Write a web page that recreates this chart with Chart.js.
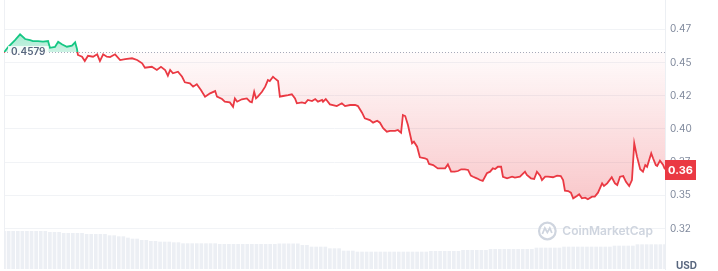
<!DOCTYPE html>
<html>
<head>
<meta charset="utf-8">
<script src="https://cdn.jsdelivr.net/npm/chart.js@4.4.1/dist/chart.umd.min.js"></script>
<style>
  html, body { margin: 0; padding: 0; background: #fff; }
  #wrap { width: 718px; height: 271px; position: relative; }
</style>
</head>
<body>
<div id="wrap"><canvas id="myChart"></canvas></div>
<script>
// price series: minutes since start of the 24h window, price in USD
const times = [0,9,24,35,46,57,63,74,85,96,100,111,118,126,137,148,155,159,161,170,
    176,183,194,203,209,216,224,231,242,253,264,279,290,301,307,322,333,342,351,357,
    362,368,379,388,394,405,412,420,429,438,449,460,464,475,481,492,499,503,508,518,
    529,536,540,545,549,553,562,569,575,579,586,590,597,601,608,619,627,634,638,649,
    656,662,671,678,684,693,695,701,710,721,725,736,743,754,765,771,780,786,797,804,
    813,819,826,834,841,852,858,865,869,874,880,889,893,900,906,917,922,926,935,945,
    961,967,974,982,989,996,1004,1011,1017,1022,1030,1037,1043,1052,1059,1065,1070,1076,1083,1087,
    1096,1107,1113,1124,1135,1139,1148,1155,1161,1168,1172,1179,1185,1196,1205,1213,1218,1222,1229,1235,
    1240,1248,1253,1259,1266,1272,1281,1287,1294,1303,1307,1314,1324,1331,1336,1342,1349,1355,1362,1368,
    1373,1379,1386,1392,1397,1401,1410,1414,1420,1423,1429,1436,1440];

const prices = [0.4575,0.4617,0.4669,0.4712,0.4677,0.4669,0.4662,0.4662,0.4657,0.4662,0.4611,0.4617,0.4657,0.4637,0.4619,0.4627,0.4652,0.4602,0.4557,0.4544,
    0.4511,0.4551,0.4544,0.4562,0.4511,0.4562,0.4544,0.4541,0.4562,0.4519,0.4526,0.4532,0.4519,0.4494,0.4461,0.4468,0.4444,0.4468,0.4444,0.4401,
    0.4444,0.4419,0.4431,0.4393,0.4351,0.4343,0.4318,0.4336,0.4293,0.4243,0.4268,0.4285,0.4243,0.4225,0.4206,0.4200,0.4167,0.4230,0.4205,0.4223,
    0.4230,0.4205,0.4200,0.4280,0.4230,0.4243,0.4280,0.4318,0.4368,0.4361,0.4393,0.4381,0.4361,0.4243,0.4248,0.4255,0.4261,0.4230,0.4193,0.4200,
    0.4193,0.4218,0.4210,0.4225,0.4205,0.4218,0.4205,0.4225,0.4185,0.4176,0.4172,0.4193,0.4172,0.4180,0.4180,0.4172,0.4122,0.4080,0.4067,0.4047,
    0.4062,0.4047,0.4005,0.3979,0.3986,0.3986,0.3992,0.3971,0.4105,0.4097,0.4029,0.3892,0.3904,0.3866,0.3786,0.3779,0.3771,0.3736,0.3728,0.3703,
    0.3703,0.3733,0.3678,0.3678,0.3683,0.3696,0.3696,0.3691,0.3648,0.3640,0.3628,0.3615,0.3608,0.3666,0.3678,0.3703,0.3698,0.3715,0.3715,0.3640,
    0.3628,0.3640,0.3633,0.3640,0.3678,0.3653,0.3628,0.3623,0.3678,0.3648,0.3615,0.3640,0.3640,0.3636,0.3648,0.3645,0.3615,0.3535,0.3532,0.3520,
    0.3477,0.3495,0.3508,0.3477,0.3482,0.3470,0.3490,0.3490,0.3520,0.3590,0.3570,0.3590,0.3636,0.3590,0.3578,0.3640,0.3645,0.3602,0.3570,0.3615,
    0.3892,0.3791,0.3696,0.3678,0.3728,0.3715,0.3816,0.3779,0.3728,0.3721,0.3761,0.3728,0.3696];

// 24h volume, one bar every 10 minutes (millions USD)
const volumes = [11.4,11.4,11.4,11.4,11.4,11.4,11.4,11.4,11.4,11.4,
    11.1,11.1,11.1,10.8,10.8,10.8,10.8,10.8,10.5,10.5,10.5,10.5,10.5,
    10.1,10.1,9.8,9.8,9.4,9.1,9.1,8.7,8.7,8.4,8.4,8.2,8.2,8.2,8.0,8.0,
    7.7,7.7,7.7,7.7,7.7,7.7,7.7,7.7,
    7.5,7.5,7.5,7.5,7.5,7.5,7.5,7.5,7.5,7.5,7.5,7.5,7.5,
    7.65,7.65,7.65,7.65,7.65,7.2,7.2,6.7,6.7,6.7,6.7,6.2,6.2,6.2,5.5,5.5,5.5,
    5.2,5.2,5.2,5.2,5.2,5.2,5.2,5.2,5.2,5.2,5.2,5.2,5.2,5.2,5.2,5.2,
    5.4,5.4,5.4,5.4,5.4,5.4,5.4,5.7,5.7,5.7,5.7,5.7,5.7,
    6.0,6.0,6.0,6.0,6.0,6.0,6.0,6.0,6.0,6.0,6.4,6.4,6.4,6.4,6.4,6.4,
    6.7,6.7,6.7,6.7,6.7,6.7,6.7,6.7,6.7,6.7,6.7,7.0,7.0,7.0,7.0,7.0,
    7.4,7.4,7.4,7.4,7.4,7.4,7.4];

const openPrice = 0.4579;
const tickValues = [0.475, 0.45, 0.425, 0.40, 0.375, 0.35, 0.325];
const tickLabels = ['0.47', '0.45', '0.42', '0.40', '0.37', '0.35', '0.32'];

const green = 'rgb(22, 199, 132)';
const red = 'rgb(234, 57, 67)';

//line colour switches at the open price
const lineColor = (context) => {
    const chart = context.chart;
    const area = chart.chartArea;
    if (!area) return red;
    const y = chart.scales.y.getPixelForValue(openPrice);
    const f = Math.min(Math.max((y - area.top) / (area.bottom - area.top), 0), 1);
    const g = chart.ctx.createLinearGradient(0, area.top, 0, area.bottom);
    g.addColorStop(0, green);
    g.addColorStop(f, green);
    g.addColorStop(f, red);
    g.addColorStop(1, red);
    return g;
};

const lineFill = (context) => {
    const chart = context.chart;
    const area = chart.chartArea;
    if (!area) {
        return { target: { value: openPrice }, above: 'rgba(22,199,132,0.25)', below: 'rgba(234,57,67,0.12)' };
    }
    const yScale = chart.scales.y;
    const yBase = yScale.getPixelForValue(openPrice);
    const yTop = yScale.getPixelForValue(Math.max(...prices));
    const yLow = yScale.getPixelForValue(Math.min(...prices));
    const gUp = chart.ctx.createLinearGradient(0, yTop, 0, yBase);
    gUp.addColorStop(0, 'rgba(22,199,132,0.38)');
    gUp.addColorStop(1, 'rgba(22,199,132,0.22)');
    const gDown = chart.ctx.createLinearGradient(0, yBase, 0, yLow);
    gDown.addColorStop(0, 'rgba(234,57,67,0.02)');
    gDown.addColorStop(1, 'rgba(234,57,67,0.28)');
    return { target: { value: openPrice }, above: gUp, below: gDown };
};

const decorations = {
    id: 'decorations',
    beforeDatasetsDraw(chart) {
        const { ctx, chartArea: a, scales } = chart;
        ctx.save();
        // left edge line
        ctx.strokeStyle = 'rgb(238, 240, 244)';
        ctx.lineWidth = 1;
        ctx.beginPath();
        ctx.moveTo(a.left + 0.5, 0);
        ctx.lineTo(a.left + 0.5, a.bottom);
        ctx.stroke();

        // watermark
        ctx.font = '600 12px Inter';
        ctx.fillStyle = 'rgb(207, 213, 223)';
        ctx.textAlign = 'right';
        ctx.textBaseline = 'middle';
        const wy = 231;
        const tx = a.right - 12;
        ctx.fillText('CoinMarketCap', tx, wy);
        const tw = ctx.measureText('CoinMarketCap').width;
        const cx = tx - tw - 15;
        ctx.strokeStyle = 'rgb(207, 213, 223)';
        ctx.lineWidth = 2.2;
        ctx.beginPath();
        ctx.arc(cx, wy, 8.3, 0, Math.PI * 2);
        ctx.stroke();
        ctx.lineWidth = 1.8;
        ctx.beginPath();
        ctx.moveTo(cx - 5, wy + 3);
        ctx.lineTo(cx - 2.5, wy - 3);
        ctx.lineTo(cx, wy + 1.5);
        ctx.lineTo(cx + 2.5, wy - 3);
        ctx.lineTo(cx + 4.5, wy + 2);
        ctx.stroke();

        // dotted open price line
        const yb = Math.round(scales.y.getPixelForValue(openPrice)) + 0.5;
        ctx.strokeStyle = 'rgb(165, 173, 188)';
        ctx.lineWidth = 1;
        ctx.setLineDash([1, 2]);
        ctx.beginPath();
        ctx.moveTo(a.left, yb);
        ctx.lineTo(a.right, yb);
        ctx.stroke();
        ctx.restore();
    },
    afterDraw(chart) {
        const { ctx, chartArea: a, scales } = chart;
        ctx.save();
        // open price label
        const yb = scales.y.getPixelForValue(openPrice);
        ctx.font = '600 10px Inter';
        const label = openPrice.toFixed(4);
        const lw = ctx.measureText(label).width;
        ctx.fillStyle = 'rgba(255,255,255,0.85)';
        ctx.fillRect(a.left + 4, yb - 6, lw + 6, 12);
        ctx.fillStyle = 'rgb(88, 102, 126)';
        ctx.textAlign = 'left';
        ctx.textBaseline = 'middle';
        ctx.fillText(label, a.left + 7, yb);

        // last price box
        const last = prices[prices.length - 1];
        const yl = scales.y.getPixelForValue(last);
        ctx.fillStyle = red;
        ctx.fillRect(a.right, Math.round(yl) - 9, 31, 20);
        ctx.fillStyle = '#fff';
        ctx.font = 'bold 11px Inter';
        ctx.textAlign = 'center';
        ctx.fillText((Math.floor(last * 100) / 100).toFixed(2), a.right + 15.5, Math.round(yl) + 1.5);

        // currency
        ctx.fillStyle = 'rgb(88, 102, 126)';
        ctx.font = 'bold 10px Inter';
        ctx.textAlign = 'left';
        ctx.fillText('USD', a.right + 11, 266);
        ctx.restore();
    }
};

const drawChart = () => {
    const data = {
        datasets: [{
            type: 'line',
            label: 'Price',
            data: times.map((t, i) => ({ x: t, y: prices[i] })),
            borderColor: lineColor,
            borderWidth: 1.8,
            pointRadius: 0,
            tension: 0,
            fill: lineFill,
            yAxisID: 'y',
            order: 0
        }, {
            type: 'bar',
            label: 'Volume',
            data: volumes.map((v, i) => ({ x: i * 10, y: v })),
            backgroundColor: 'rgb(236, 239, 244)',
            barPercentage: 0.8,
            categoryPercentage: 1,
            yAxisID: 'yVol',
            order: 1
        }]
    };

    const config = {
        type: 'line',
        data: data,
        options: {
            responsive: true,
            maintainAspectRatio: false,
            animation: false,
            layout: { padding: { left: 4, top: 0, right: 0, bottom: 2 } },
            plugins: { legend: { display: false }, tooltip: { enabled: false } },
            scales: {
                x: { type: 'linear', min: 0, max: 1440, display: false, offset: false },
                y: {
                    position: 'right',
                    min: 0.2945,
                    max: 0.4971,
                    afterBuildTicks: (scale) => { scale.ticks = tickValues.map(v => ({ value: v })); },
                    afterFit: (scale) => {
                        scale.width = 53;
                        scale.paddingTop = 0;
                        scale.paddingBottom = 0;
                    },
                    grid: { color: 'rgb(241, 243, 246)', drawTicks: false },
                    border: { display: true, color: 'rgb(236, 239, 243)' },
                    ticks: {
                        padding: 5,
                        color: 'rgb(128, 138, 157)',
                        font: { family: 'Inter', size: 10 },
                        callback: (v, i) => tickLabels[i]
                    }
                },
                yVol: { display: false, min: 0, max: 80.7 }
            }
        },
        plugins: [decorations]
    };

    new Chart(document.getElementById('myChart'), config);
};

window.onload = drawChart;
</script>
</body>
</html>
